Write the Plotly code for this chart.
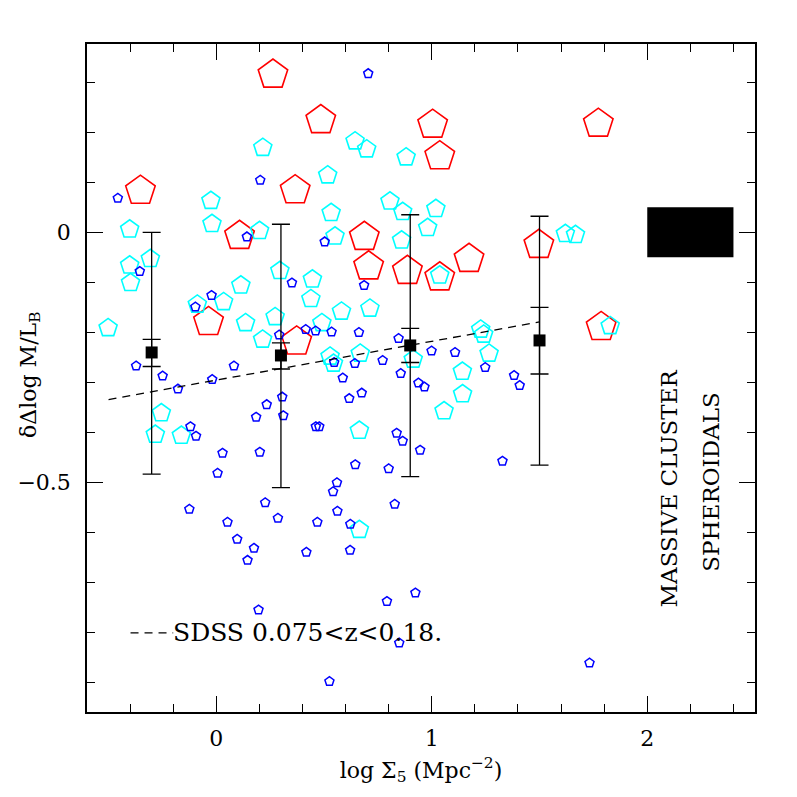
import plotly.graph_objects as go

# large red pentagons
red_x = [0.263, 0.485, 1.004, 1.037, 1.773, -0.352, 0.366, 0.108, 0.687, 0.707,
         0.887, 1.037, 1.173, 1.497, -0.036, 0.373, 1.786]
red_y = [0.315, 0.224, 0.215, 0.152, 0.217, 0.083, 0.084, -0.007, -0.009, -0.068,
         -0.077, -0.090, -0.053, -0.025, -0.179, -0.218, -0.189]

# medium cyan pentagons
cyan_x = [0.216, 0.644, 0.698, 0.881, 0.517, -0.025, 0.806, 0.865, 0.533, -0.020,
          1.019, 0.981, -0.402, 0.201, 0.551, 0.860, 1.620, 1.667, -0.306, -0.402,
          -0.398, 0.295, 0.446, 0.114, 0.034, -0.088, 0.439, 0.581, 0.713, 0.136,
          0.273, 0.490, -0.502, 0.215, 1.037, 1.227, 1.241, 1.828, 0.528, 0.544,
          0.668, 0.914, 1.266, 1.142, 1.143, 1.057, -0.255, -0.283, -0.162, 0.664,
          0.664]
cyan_y = [0.169, 0.182, 0.166, 0.150, 0.114, 0.063, 0.062, 0.041, 0.039, 0.017,
          0.047, 0.009, 0.006, 0.003, -0.008, -0.016, -0.003, -0.005, -0.053, -0.066,
          -0.101, -0.077, -0.094, -0.106, -0.139, -0.144, -0.133, -0.158, -0.152, -0.181,
          -0.169, -0.181, -0.191, -0.214, -0.086, -0.194, -0.204, -0.187, -0.248, -0.262,
          -0.242, -0.254, -0.242, -0.278, -0.323, -0.357, -0.361, -0.404, -0.406, -0.396,
          -0.594]

# small blue pentagons
blue_x = [0.705, 0.204, -0.457, 0.142, 0.503, -0.355, 0.351, 0.686, -0.022, -0.097,
          0.292, 0.415, 0.461, 0.535, 0.662, 0.846, -0.372, -0.249, 0.082, -0.178,
          -0.019, 0.547, 0.643, 0.772, 0.856, 0.587, 0.938, 0.966, 0.999, 1.108,
          1.248, 1.382, 1.408, 0.617, 0.675, 0.234, 0.306, 0.185, 0.311, -0.120,
          -0.094, 0.462, 0.478, 0.837, 0.865, 0.946, 0.029, 0.202, 0.006, 0.645,
          0.800, 1.328, 0.560, 0.542, -0.125, 0.227, 0.828, 0.052, 0.286, 0.469,
          0.562, 0.622, 0.097, 0.175, 0.145, 0.418, 0.621, 0.924, 0.792, 0.196,
          0.849, 0.525, 1.732]
blue_y = [0.317, 0.104, 0.068, -0.009, -0.019, -0.078, -0.101, -0.106, -0.126, -0.149,
          -0.205, -0.194, -0.197, -0.199, -0.200, -0.212, -0.267, -0.287, -0.267, -0.313,
          -0.294, -0.260, -0.262, -0.256, -0.282, -0.291, -0.301, -0.309, -0.237, -0.240,
          -0.270, -0.286, -0.306, -0.332, -0.321, -0.344, -0.329, -0.369, -0.366, -0.388,
          -0.407, -0.388, -0.388, -0.401, -0.417, -0.435, -0.441, -0.439, -0.481, -0.464,
          -0.472, -0.457, -0.500, -0.518, -0.553, -0.540, -0.543, -0.579, -0.571, -0.579,
          -0.557, -0.583, -0.613, -0.631, -0.655, -0.639, -0.635, -0.720, -0.737, -0.754,
          -0.820, -0.897, -0.860]

# binned means with errors
bin_x = [-0.3, 0.3, 0.9, 1.5]
bin_y = [-0.240, -0.246, -0.226, -0.216]
inner_up = [0.026, 0.025, 0.034, 0.066]
inner_dn = [0.028, 0.027, 0.034, 0.067]
outer_up = [0.240, 0.262, 0.261, 0.248]
outer_dn = [0.243, 0.264, 0.262, 0.249]

# SDSS relation
sdss_x = [-0.5, 1.5]
sdss_y = [-0.334, -0.179]
legend_x = [-0.398, -0.2]
legend_y = [-0.80, -0.80]

# massive cluster spheroidals box
box_x = [2.0, 2.4]
box_y = [-0.05, 0.05]

FONT = "DejaVu Serif"

fig = go.Figure()

fig.add_trace(go.Scatter(
    x=red_x, y=red_y, mode="markers",
    marker=dict(symbol="pentagon-open", size=31, color="#ff0000",
                line=dict(width=1.6, color="#ff0000")),
))
fig.add_trace(go.Scatter(
    x=cyan_x, y=cyan_y, mode="markers",
    marker=dict(symbol="pentagon-open", size=19, color="#00ffff",
                line=dict(width=1.6, color="#00ffff")),
))
fig.add_trace(go.Scatter(
    x=blue_x, y=blue_y, mode="markers",
    marker=dict(symbol="pentagon-open", size=9.5, color="#0000ff",
                line=dict(width=1.5, color="#0000ff")),
))

fig.add_trace(go.Scatter(
    x=sdss_x, y=sdss_y, mode="lines",
    line=dict(color="black", width=1.3, dash="8px,6px"),
))
fig.add_trace(go.Scatter(
    x=legend_x, y=legend_y, mode="lines",
    line=dict(color="black", width=1.3, dash="8px,6px"),
))

# outer (scatter) error bars
fig.add_trace(go.Scatter(
    x=bin_x, y=bin_y, mode="markers",
    marker=dict(size=1, color="black"),
    error_y=dict(type="data", symmetric=False, array=outer_up, arrayminus=outer_dn,
                 color="black", thickness=1.3, width=9),
))
# inner (error on mean) bars with filled squares
fig.add_trace(go.Scatter(
    x=bin_x, y=bin_y, mode="markers",
    marker=dict(symbol="square", size=12, color="black"),
    error_y=dict(type="data", symmetric=False, array=inner_up, arrayminus=inner_dn,
                 color="black", thickness=1.3, width=9),
))

fig.add_shape(type="rect", xref="x", yref="y",
              x0=box_x[0], x1=box_x[1], y0=box_y[0], y1=box_y[1],
              fillcolor="black", line=dict(width=0))

fig.add_annotation(x=-0.212, y=-0.80, text="SDSS 0.075<z<0.18.", showarrow=False,
                   xanchor="left", yanchor="middle",
                   font=dict(family=FONT, size=25, color="black"))
fig.add_annotation(x=2.10, y=-0.512, text="MASSIVE CLUSTER", showarrow=False,
                   textangle=-90, font=dict(family=FONT, size=23, color="black"))
fig.add_annotation(x=2.296, y=-0.500, text="SPHEROIDALS", showarrow=False,
                   textangle=-90, font=dict(family=FONT, size=23, color="black"))

# y-axis title sits between the tick labels, so place it by hand
fig.add_annotation(xref="paper", yref="paper", x=-0.085, y=0.505,
                   text="δΔlog M/L<sub>B</sub>", showarrow=False, textangle=-90,
                   xanchor="center", yanchor="middle",
                   font=dict(family=FONT, size=22, color="black"))

axis_common = dict(
    showgrid=False, zeroline=False, showline=True, linecolor="black", linewidth=1.5,
    mirror="allticks", ticks="inside", ticklen=16, tickwidth=1.3, tickcolor="black",
    tickfont=dict(family=FONT, size=22, color="black"), automargin=False,
)

fig.update_xaxes(
    range=[-0.6, 2.5], dtick=1, tick0=0,
    minor=dict(dtick=0.2, tick0=0, ticklen=8, ticks="inside", tickwidth=1.3, tickcolor="black"),
    title=dict(text="log Σ<sub>5</sub> (Mpc<sup>−2</sup>)",
               font=dict(family=FONT, size=22, color="black"), standoff=12),
    ticklabelstandoff=6,
    **axis_common,
)
fig.update_yaxes(
    range=[-0.958, 0.376], dtick=0.5, tick0=0,
    minor=dict(dtick=0.1, tick0=0, ticklen=8, ticks="inside", tickwidth=1.3, tickcolor="black"),
    ticklabelstandoff=10,
    **axis_common,
)

# page body adds an 8px offset, so the margins are shifted to compensate
fig.update_layout(
    width=797, height=797,
    margin=dict(l=79, r=50, t=36, b=93),
    paper_bgcolor="white", plot_bgcolor="white",
    showlegend=False,
)

fig.write_html("out.html")
